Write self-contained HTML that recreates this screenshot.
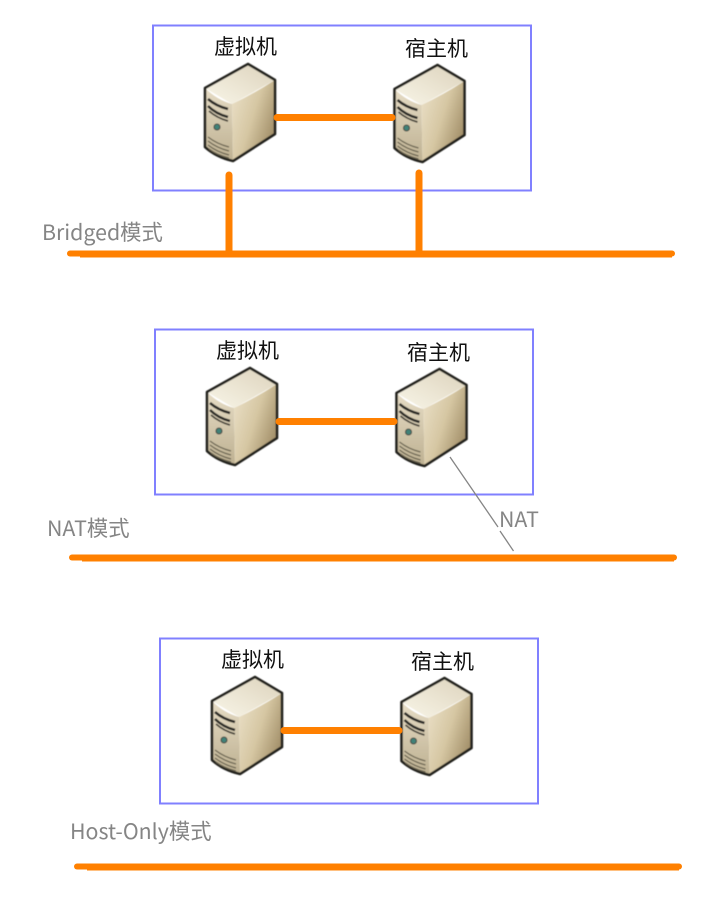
<!DOCTYPE html>
<html>
<head>
<meta charset="utf-8">
<style>
html,body{margin:0;padding:0;background:#fff;width:719px;height:900px;overflow:hidden}
svg{display:block}
.k{font-family:"Noto Sans CJK SC","Liberation Sans",sans-serif;font-size:21px;fill:#111}
.g{font-family:"Noto Sans CJK SC","Liberation Sans",sans-serif;font-size:21.35px;fill:#858585}
</style>
</head>
<body>
<svg width="719" height="900" viewBox="0 0 719 900" xmlns="http://www.w3.org/2000/svg">
<defs>
<filter id="soft" x="-10%" y="-10%" width="120%" height="120%"><feGaussianBlur stdDeviation="0.45"/></filter>
<linearGradient id="front" x1="0" y1="0" x2="0" y2="1"><stop offset="0" stop-color="#e6dcc5"/><stop offset="1" stop-color="#bdb091"/></linearGradient>
<linearGradient id="side" x1="0" y1="0" x2="1" y2="0.6"><stop offset="0" stop-color="#ece2ca"/><stop offset=".55" stop-color="#d6c7a3"/><stop offset="1" stop-color="#a3906a"/></linearGradient>
<linearGradient id="top" x1="0" y1="1" x2="1" y2="0"><stop offset="0" stop-color="#f9f5e8"/><stop offset="1" stop-color="#dcd3bc"/></linearGradient>
<g id="srv" filter="url(#soft)">
<path d="M205 88 L248 64 L275 80 L232 104 Z" fill="url(#top)"/>
<path d="M205 88 Q217 100 232 104 L233 161 Q216 157 205 147 Z" fill="url(#front)"/>
<path d="M232 104 Q255 93 275 80 L275 134 L233 161 Z" fill="url(#side)"/>
<path d="M205 88 L248 64 L275 80 L275 134 L233 161 Q216 157 205 147 Z" fill="none" stroke="#24221f" stroke-width="2.6" stroke-linejoin="round"/>
<path d="M208 99 Q216 106 228 109 M208 106 Q216 114 228 117" fill="none" stroke="#2b2925" stroke-width="2.6"/>
<path d="M209 111 Q217 118 228 121" fill="none" stroke="#403c34" stroke-width="1.8"/>
<circle cx="217" cy="127" r="3" fill="#3f8278" stroke="#4c4a42" stroke-width="1.1"/>
<path d="M208 137 Q217 144 229 147 M208 141 Q217 148 229 151 M208 145 Q217 152 229 155 M209 149 Q217 155 229 158" fill="none" stroke="#68624f" stroke-width="1.2"/>
</g>
</defs>

<!-- Bridged -->
<rect x="153" y="25.500" width="378" height="165" fill="none" stroke="#8080ff" stroke-width="2"/>
<text class="k" x="214" y="54">虚拟机</text>
<text class="k" x="405" y="56">宿主机</text>
<use href="#srv"/>
<use href="#srv" transform="translate(189.500,1)"/>
<path d="M277 117.500 H392" stroke="#ff8000" stroke-width="7" stroke-linecap="round"/>
<path d="M229 175 V253 M419 173 V253" stroke="#ff8000" stroke-width="7" stroke-linecap="round"/>
<path d="M70 253.500 H672" stroke="#ff8000" stroke-width="6" stroke-linecap="round"/>
<path d="M80 254.500 H672" stroke="#ff8000" stroke-width="6"/>
<text class="g" x="42" y="240">Bridged模式</text>

<!-- NAT -->
<rect x="155" y="329.500" width="378" height="165" fill="none" stroke="#8080ff" stroke-width="2"/>
<text class="k" x="216" y="358">虚拟机</text>
<text class="k" x="407" y="360">宿主机</text>
<use href="#srv" transform="translate(2,304)"/>
<use href="#srv" transform="translate(191.500,305)"/>
<path d="M279 421.500 H394" stroke="#ff8000" stroke-width="7" stroke-linecap="round"/>
<path d="M72 557.500 H674" stroke="#ff8000" stroke-width="6" stroke-linecap="round"/>
<path d="M82 558.500 H674" stroke="#ff8000" stroke-width="6"/>
<path d="M450 457 L498 527 M500 531 L513.500 551" stroke="#858585" stroke-width="1.300" fill="none"/>
<text class="g" x="47" y="536">NAT模式</text>
<text class="g" x="499" y="527">NAT</text>

<!-- Host-Only -->
<rect x="160" y="638.500" width="378" height="165" fill="none" stroke="#8080ff" stroke-width="2"/>
<text class="k" x="221" y="667">虚拟机</text>
<text class="k" x="411" y="669">宿主机</text>
<use href="#srv" transform="translate(7,613)"/>
<use href="#srv" transform="translate(196.500,614)"/>
<path d="M284 730.500 H399" stroke="#ff8000" stroke-width="7" stroke-linecap="round"/>
<path d="M77 866.500 H679" stroke="#ff8000" stroke-width="6" stroke-linecap="round"/>
<path d="M87 867.500 H679" stroke="#ff8000" stroke-width="6"/>
<text class="g" x="70" y="839">Host-Only模式</text>
</svg>
</body>
</html>
